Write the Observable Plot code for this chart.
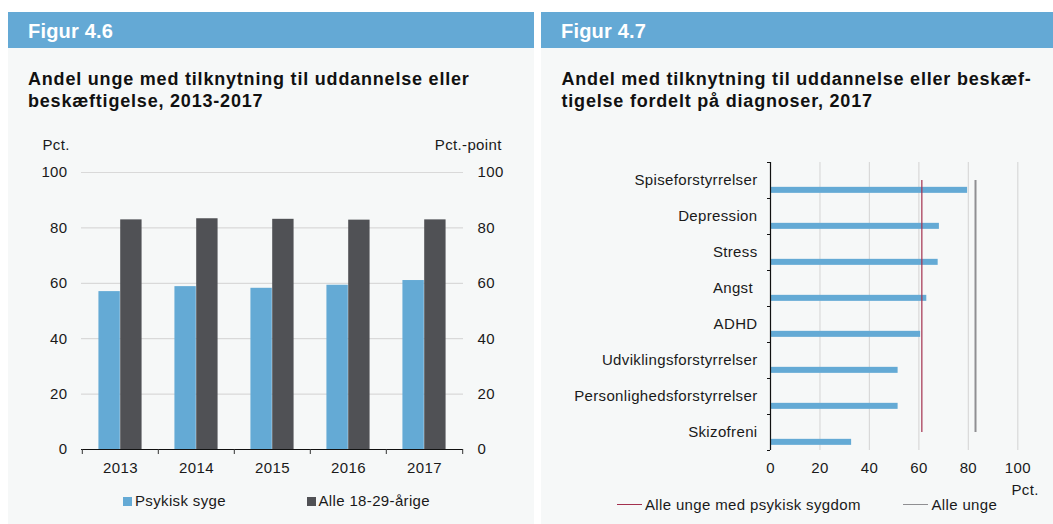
<!DOCTYPE html>
<html><head><meta charset="utf-8">
<script src="https://cdn.jsdelivr.net/npm/d3@7"></script>
<script src="https://cdn.jsdelivr.net/npm/@observablehq/plot@0.6"></script>
<style>
body{margin:0;width:1053px;height:524px;position:relative;overflow:hidden;background:#fff;font-family:"Liberation Sans",Arial,Helvetica,sans-serif;color:#1a1a1a}
.panel{position:absolute;top:12px;height:512px;background:#f6f8f8}
.head{position:absolute;top:12px;height:36px;background:#64a9d5}
.t{position:absolute;white-space:nowrap}
.sw{position:absolute}
#c1,#c2{position:absolute}
svg text{white-space:pre}
</style></head><body>
<div class="panel" style="left:8px;width:526px"></div>
<div class="panel" style="left:541px;width:512px"></div>
<div class="head" style="left:8px;width:526px"></div>
<div class="head" style="left:541px;width:512px"></div>
<div id="c1" style="left:0;top:130px"></div>
<div id="c2" style="left:541px;top:150px"></div>
<script>
// ---------- data ----------
const years = ["2013", "2014", "2015", "2016", "2017"];
const psykiskSyge = [57.0, 58.8, 58.2, 59.3, 61.0];
const alle1829 = [82.9, 83.3, 83.1, 82.8, 82.9];
const yTicks1 = [0, 20, 40, 60, 80, 100];

const diagnoses = ["Spiseforstyrrelser", "Depression", "Stress", "Angst ", "ADHD",
  "Udviklingsforstyrrelser", "Personlighedsforstyrrelser", "Skizofreni"];
const diagValues = [79.7, 68.3, 67.8, 63.2, 60.7, 51.6, 51.6, 32.8];
const refPsykisk = [61.2];
const refAlleUnge = [82.9];
const xTicks2 = [0, 20, 40, 60, 80, 100];

const seriesNames1 = ["Psykisk syge", "Alle 18-29-årige"];
const refNames2 = ["Alle unge med psykisk sygdom", "Alle unge"];

// ---------- style ----------
const BLUE = "#64aad5", DARK = "#505155", RED = "#a3304e", GREY = "#8f8f92", GRID = "#d9d9d9";
const FONT = '"Liberation Sans", Arial, Helvetica, sans-serif';
const LS = 0.35;

function txt(s, x, base, size, opts = {}) {
  const d = document.createElement("div");
  d.className = "t";
  d.textContent = s;
  d.style.fontSize = size + "px";
  d.style.lineHeight = size + "px";
  d.style.top = (base - 0.8465 * size) + "px";
  if (opts.bold) d.style.fontWeight = "bold";
  if (opts.color) d.style.color = opts.color;
  d.style.letterSpacing = (opts.ls != null ? opts.ls : LS) + "px";
  if (opts.right) { d.style.right = (1053 - x) + "px"; } else d.style.left = x + "px";
  document.body.appendChild(d);
  return d;
}
function sw(x, y, w, h, c) {
  const d = document.createElement("div");
  d.className = "sw";
  Object.assign(d.style, {left: x + "px", top: y + "px", width: w + "px", height: h + "px", background: c});
  document.body.appendChild(d);
}

// headers and titles
txt("Figur 4.6", 28, 37.7, 20, {bold: true, color: "#fff", ls: 0.2});
txt("Figur 4.7", 561, 37.7, 20, {bold: true, color: "#fff", ls: 0.2});
txt("Andel unge med tilknytning til uddannelse eller", 28, 85, 18, {bold: true, ls: 0.8, color: "#111"});
txt("beskæftigelse, 2013-2017", 28, 107.5, 18, {bold: true, ls: 0.8, color: "#111"});
txt("Andel med tilknytning til uddannelse eller beskæf-", 561.5, 85, 18, {bold: true, ls: 0.8, color: "#111"});
txt("tigelse fordelt på diagnoser, 2017", 561.5, 107.5, 18, {bold: true, ls: 0.8, color: "#111"});

// ---------- chart 1 ----------
const W1 = 534, H1 = 355, ml1 = 81, mr1 = 71, mt1 = 42, mb1 = 36;
const bw = (W1 - ml1 - mr1) / years.length;
const groupW = bw * 0.57, barW = groupW / 2, side = (bw - groupW) / 2;
const rows1 = years.map((y, i) => ({year: y, psyk: psykiskSyge[i], alle: alle1829[i]}));
const axisStyle = {background: "transparent", fontSize: "15px", fontFamily: FONT, color: "#1a1a1a", overflow: "visible", letterSpacing: LS + "px"};

const p1 = Plot.plot({
  width: W1, height: H1, marginLeft: ml1, marginRight: mr1, marginTop: mt1, marginBottom: mb1,
  style: axisStyle,
  x: {domain: years, padding: 0, label: null},
  y: {domain: [0, 100], label: null},
  marks: [
    Plot.gridY(yTicks1.slice(1), {stroke: GRID, strokeOpacity: 1, strokeWidth: 1.2}),
    Plot.barY(rows1, {x: "year", y: "psyk", fill: BLUE, insetLeft: side, insetRight: bw - side - barW}),
    Plot.barY(rows1, {x: "year", y: "alle", fill: DARK, insetLeft: side + barW, insetRight: side}),
    Plot.ruleY([0], {stroke: "#111", strokeWidth: 1.2}),
    Plot.axisX({tickSize: 0, tickPadding: 13}),
    Plot.axisX({tickSize: 5, tickFormat: () => "", dx: -bw / 2, stroke: "#333"}),
    Plot.axisX([years[years.length - 1]], {tickSize: 5, tickFormat: () => "", dx: bw / 2, stroke: "#333"}),
    Plot.axisY({anchor: "left", ticks: yTicks1, tickSize: 0, tickPadding: 14}),
    Plot.axisY({anchor: "right", ticks: yTicks1, tickSize: 0, tickPadding: 14})
  ]
});
document.getElementById("c1").appendChild(p1);
txt("Pct.", 42.5, 149.5, 15);
txt("Pct.-point", 501.7, 149.5, 15, {right: true});

// legend 1
sw(123, 497, 9, 9, BLUE);
txt(seriesNames1[0], 135, 505.7, 15);
sw(306.5, 497, 9, 9, DARK);
txt(seriesNames1[1], 318.5, 505.7, 15);

// ---------- chart 2 ----------
const W2 = 512, H2 = 330, ml2 = 229, mr2 = 35.7, mt2 = 12, mb2 = 30;
const bh = (H2 - mt2 - mb2) / diagnoses.length;
const rows2 = diagnoses.map((d, i) => ({diag: d, value: diagValues[i]}));

const p2 = Plot.plot({
  width: W2, height: H2, marginLeft: ml2, marginRight: mr2, marginTop: mt2, marginBottom: mb2,
  style: axisStyle,
  x: {domain: [0, 100], label: null},
  y: {domain: diagnoses, padding: 0, label: null},
  marks: [
    Plot.gridX(xTicks2.slice(1), {stroke: GRID, strokeOpacity: 1, strokeWidth: 1.2}),
    Plot.barX(rows2, {y: "diag", x: "value", fill: BLUE, insetTop: bh * 0.69, insetBottom: bh * 0.143}),
    Plot.ruleX(refPsykisk, {stroke: RED, strokeWidth: 1.2, insetTop: bh / 2, insetBottom: bh / 2}),
    Plot.ruleX(refAlleUnge, {stroke: GREY, strokeWidth: 2, insetTop: bh / 2, insetBottom: bh / 2}),
    Plot.ruleX([0], {stroke: "#111", strokeWidth: 1.2}),
    Plot.axisY({tickSize: 0, tickPadding: 13}),
    Plot.axisY({tickSize: 3, tickFormat: () => "", dy: -bh / 2, stroke: "#111"}),
    Plot.axisY([diagnoses[diagnoses.length - 1]], {tickSize: 3, tickFormat: () => "", dy: bh / 2, stroke: "#111"}),
    Plot.axisX({ticks: xTicks2, tickSize: 0, tickPadding: 12})
  ]
});
document.getElementById("c2").appendChild(p2);
txt("Pct.", 1011.5, 495, 15);

// legend 2
sw(616.5, 503.5, 25, 1.2, RED);
txt(refNames2[0], 645, 510, 15);
sw(903, 503.5, 25, 1.2, GREY);
txt(refNames2[1], 931.5, 510, 15);
</script>
</body></html>
